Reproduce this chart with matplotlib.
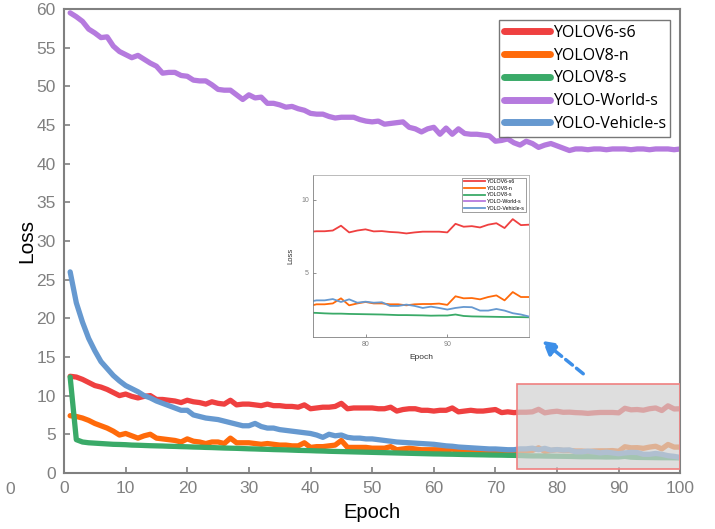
import matplotlib
matplotlib.use("Agg")
import matplotlib.pyplot as plt
from matplotlib.patches import Rectangle
import numpy as np

epochs = list(range(1, 101))

yolov6_s6 = [12.5, 12.4, 12.1, 11.7, 11.3, 11.1, 10.8, 10.4, 10.0, 10.2,
             9.9, 9.7, 9.9, 10.0, 9.5, 9.5, 9.4, 9.3, 9.1, 9.4,
             9.2, 9.1, 8.9, 9.2, 9.0, 8.9, 9.4, 8.8, 8.9, 8.9,
             8.8, 8.7, 8.9, 8.7, 8.7, 8.6, 8.6, 8.5, 8.8, 8.3,
             8.4, 8.5, 8.5, 8.6, 9.0, 8.3, 8.4, 8.4, 8.4, 8.4,
             8.3, 8.3, 8.5, 8.0, 8.2, 8.3, 8.3, 8.1, 8.1, 8.0,
             8.1, 8.1, 8.4, 7.9, 8.0, 8.1, 8.0, 8.0, 8.1, 8.2,
             7.8, 7.9, 7.8, 7.85, 7.85, 7.9, 8.23, 7.77, 7.9, 7.98,
             7.84, 7.86, 7.8, 7.77, 7.7, 7.77, 7.82, 7.82, 7.82, 7.77,
             8.36, 8.16, 8.2, 8.11, 8.3, 8.4, 8.07, 8.68, 8.27, 8.3]

yolov8_n = [7.4, 7.3, 7.1, 6.8, 6.4, 6.1, 5.8, 5.4, 4.9, 5.1,
            4.8, 4.5, 4.8, 5.0, 4.5, 4.4, 4.3, 4.2, 4.0, 4.4,
            4.1, 4.0, 3.8, 4.0, 4.0, 3.8, 4.5, 3.9, 3.9, 3.9,
            3.8, 3.7, 3.8, 3.7, 3.6, 3.6, 3.5, 3.5, 3.9, 3.3,
            3.4, 3.4, 3.5, 3.6, 4.2, 3.3, 3.3, 3.3, 3.3, 3.2,
            3.2, 3.2, 3.4, 3.0, 3.1, 3.2, 3.1, 3.0, 3.0, 3.0,
            3.0, 2.9, 3.1, 2.8, 2.9, 2.9, 2.8, 2.8, 2.8, 2.9,
            2.7, 2.8, 2.7, 2.84, 2.84, 2.9, 3.25, 2.77, 2.9, 3.0,
            2.9, 2.9, 2.84, 2.84, 2.77, 2.84, 2.86, 2.86, 2.89, 2.8,
            3.39, 3.25, 3.27, 3.18, 3.34, 3.45, 3.11, 3.68, 3.34, 3.34]

yolov8_s = [12.4, 4.3, 4.0, 3.9, 3.85, 3.8, 3.75, 3.7, 3.68, 3.65,
            3.6, 3.58, 3.55, 3.52, 3.5, 3.48, 3.45, 3.43, 3.4, 3.38,
            3.35, 3.33, 3.3, 3.28, 3.25, 3.22, 3.2, 3.18, 3.15, 3.12,
            3.1, 3.07, 3.05, 3.02, 3.0, 2.98, 2.95, 2.92, 2.9, 2.88,
            2.85, 2.83, 2.8, 2.78, 2.76, 2.74, 2.72, 2.7, 2.68, 2.66,
            2.64, 2.62, 2.6, 2.58, 2.56, 2.54, 2.52, 2.5, 2.48, 2.46,
            2.45, 2.43, 2.42, 2.4, 2.38, 2.37, 2.35, 2.34, 2.32, 2.31,
            2.3, 2.28, 2.27, 2.25, 2.22, 2.2, 2.2, 2.18, 2.17, 2.16,
            2.15, 2.14, 2.12, 2.1, 2.1, 2.09, 2.08, 2.06, 2.07, 2.07,
            2.14, 2.04, 2.01, 2.0, 1.99, 1.98, 1.97, 1.97, 1.96, 1.95]

yolo_world_s = [59.5, 59.0, 58.4, 57.4, 56.9, 56.3, 56.4, 55.2, 54.5, 54.1,
                53.7, 54.0, 53.5, 53.0, 52.6, 51.7, 51.8, 51.8, 51.4, 51.3,
                50.8, 50.7, 50.7, 50.2, 49.6, 49.5, 49.5, 48.9, 48.3, 48.9,
                48.5, 48.6, 47.8, 47.8, 47.6, 47.3, 47.4, 47.1, 46.9, 46.5,
                46.4, 46.4, 46.1, 45.9, 46.0, 46.0, 46.0, 45.7, 45.5, 45.4,
                45.5, 45.1, 45.2, 45.3, 45.4, 44.7, 44.5, 44.1, 44.5, 44.7,
                43.8, 44.6, 43.8, 44.5, 43.9, 43.8, 43.8, 43.7, 43.6, 42.9,
                43.0, 43.2, 42.7, 42.4, 42.9, 42.6, 42.1, 42.4, 42.6, 42.3,
                42.0, 41.7, 41.9, 41.9, 41.8, 41.9, 41.9, 41.8, 41.9, 41.9,
                41.9, 41.8, 41.9, 41.9, 41.8, 41.9, 41.9, 41.9, 41.8, 41.9]

yolo_vehicle_s = [26.0, 22.0, 19.5, 17.4, 15.8, 14.4, 13.5, 12.6, 11.9, 11.3,
                  10.9, 10.5, 10.0, 9.7, 9.3, 9.0, 8.7, 8.4, 8.1, 8.1,
                  7.5, 7.3, 7.1, 7.0, 6.9, 6.7, 6.5, 6.3, 6.1, 6.1,
                  6.4, 6.0, 5.8, 5.8, 5.6, 5.5, 5.4, 5.3, 5.2, 5.1,
                  4.9, 4.6, 5.0, 4.8, 4.9, 4.6, 4.5, 4.5, 4.4, 4.4,
                  4.3, 4.2, 4.1, 4.0, 3.95, 3.9, 3.85, 3.8, 3.75, 3.7,
                  3.6, 3.5, 3.45, 3.35, 3.3, 3.25, 3.2, 3.15, 3.1, 3.1,
                  3.05, 3.0, 3.0, 3.11, 3.11, 3.2, 3.0, 3.18, 2.95, 3.02,
                  2.95, 2.98, 2.73, 2.73, 2.82, 2.73, 2.59, 2.68, 2.59, 2.48,
                  2.59, 2.66, 2.64, 2.41, 2.41, 2.52, 2.41, 2.23, 2.14, 2.0]

names = ["YOLOV6-s6", "YOLOV8-n", "YOLOV8-s", "YOLO-World-s", "YOLO-Vehicle-s"]
colors = ["#ef4040", "#ff6a0a", "#3aaa68", "#b57ade", "#6699d0"]
series = [yolov6_s6, yolov8_n, yolov8_s, yolo_world_s, yolo_vehicle_s]

plt.rcParams['font.family'] = ['Liberation Sans', 'DejaVu Sans']
gray = "#808080"

fig = plt.figure(figsize=(7.15, 5.29), dpi=100)
ax = fig.add_axes([0.0895, 0.106, 0.862, 0.877])

for name, c, s in zip(names, colors, series):
    ax.plot(epochs, s, color=c, lw=3.8, label=name, solid_capstyle='round')

ax.set_xlim(0, 100)
ax.set_ylim(0, 60)
ax.set_xticks(range(0, 101, 10))
ax.set_yticks(range(0, 61, 5))
ax.tick_params(direction='in', colors=gray, labelsize=12.5, length=4, width=1.2, pad=6)
for sp in ax.spines.values():
    sp.set_color(gray)
    sp.set_linewidth(1.5)
ax.set_xlabel("Epoch", fontsize=14.5, labelpad=5)
ax.set_ylabel("Loss", fontsize=15, labelpad=0)

leg = ax.legend(loc='upper right', bbox_to_anchor=(0.997, 0.993),
                frameon=True, fancybox=False, handlelength=2.9, handletextpad=0.15,
                borderpad=0.3, labelspacing=0.42, prop={'family': 'Open Sans', 'size': 11.5})
leg.get_frame().set_edgecolor("#555555")
leg.get_frame().set_linewidth(1.0)
for line in leg.get_lines():
    line.set_linewidth(5)

# zoomed region marker
ax.add_patch(Rectangle((73.5, 0.5), 26.5, 11.0, facecolor="#d0d0d0", alpha=0.7,
                       edgecolor="none", zorder=5))
ax.add_patch(Rectangle((73.5, 0.5), 26.5, 11.0, facecolor="none",
                       edgecolor="#f08080", lw=1.2, zorder=6))

ax.annotate("", xy=(77.3, 17.3), xytext=(84.6, 12.6),
            arrowprops=dict(arrowstyle='-|>,head_length=0.8,head_width=0.45',
                            color="#3d8fe8", lw=2.5, linestyle=(0, (2.5, 1.5))))

fig.text(0.007, 0.074, "0", color=gray, fontsize=12.5, ha='left', va='center')

# inset
ins = fig.add_axes([0.438, 0.363, 0.302, 0.306])
for name, c, s in zip(names, colors, series):
    ins.plot(epochs, s, color=c, lw=1.3, label=name)
ins.set_xlim(73.6, 100)
ins.set_ylim(0.6, 11.7)
ins.set_xticks([80, 90])
ins.set_yticks([5, 10])
ins.tick_params(direction='in', colors=gray, labelsize=5, length=2, width=0.6, pad=3)
for sp in ins.spines.values():
    sp.set_color("#b0b0b0")
    sp.set_linewidth(0.6)
ins.spines['left'].set_color(gray)
ins.spines['bottom'].set_color(gray)
ins.set_xlabel("Epoch", fontsize=6, labelpad=4, color="#333333")
ins.set_ylabel("Loss", fontsize=5.5, labelpad=5, color="#333333")
ileg = ins.legend(loc='upper right', fontsize=3.8, frameon=True, fancybox=False,
                  handlelength=4, handletextpad=0.4, borderpad=0.3, labelspacing=0.3)
ileg.get_frame().set_edgecolor("#555555")
ileg.get_frame().set_linewidth(0.5)

fig.savefig("out.png", dpi=100)
